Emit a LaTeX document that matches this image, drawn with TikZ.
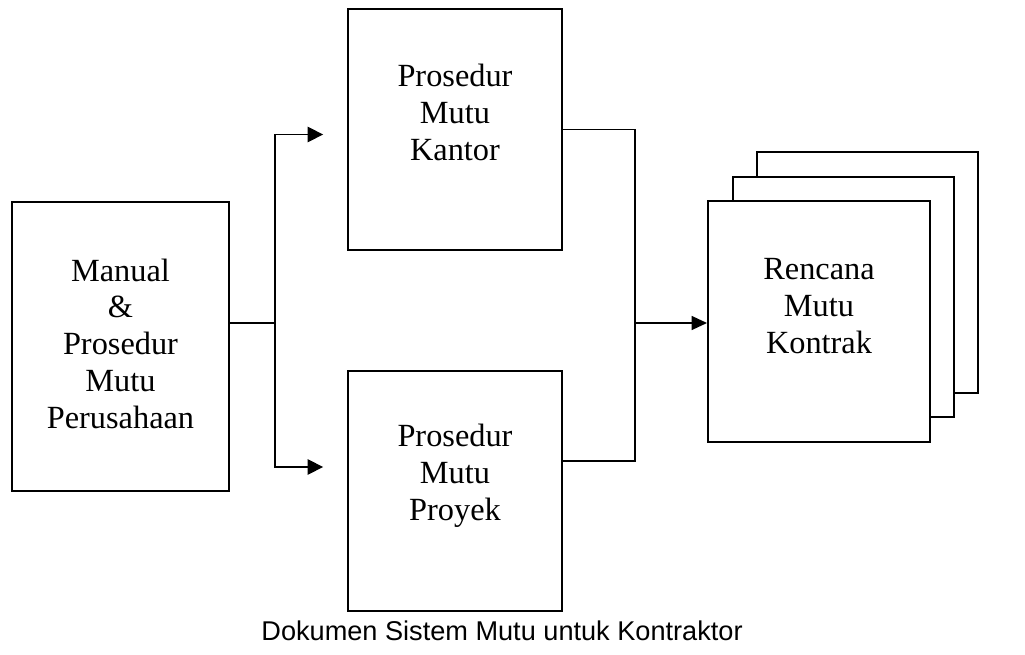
\documentclass[tikz,border=0pt]{standalone}
\usepackage{fontspec}
\setmainfont{Liberation Serif}
\newfontfamily\capfont{Liberation Sans}
\usetikzlibrary{arrows.meta,calc}

\begin{document}
\begin{tikzpicture} [x=0.025cm, y=-0.025cm,
    doc/.style={draw, line width=1.4pt, fill=white, inner sep=0pt},
    flow/.style={line width=1.1pt},
    every label/.style={align=center, font=\fontsize{23}{26.2}\selectfont}]
    \useasboundingbox (0,0) rectangle (1025,655);
    % boxes
    \path node (manual) at (120.5,346.5) [doc, minimum width=5.425cm, minimum height=7.225cm,
                label={[yshift=2pt]center:Manual\\\&\\Prosedur\\Mutu\\Perusahaan}] {}
          node (kantor) at (455,129.5) [doc, minimum width=5.35cm, minimum height=6.025cm,
                label={[yshift=12pt]center:Prosedur\\Mutu\\Kantor}] {}
          node (proyek) at (455,491) [doc, minimum width=5.35cm, minimum height=6cm,
                label={[yshift=11pt]center:Prosedur\\Mutu\\Proyek}] {};
    % stack of contract plans, back to front
    \path node (rencanathree) at (867.5,272.5) [doc, minimum width=5.5cm, minimum height=6cm] {}
          node (rencanatwo) at (843.5,297) [doc, minimum width=5.5cm, minimum height=6cm] {}
          node (rencana) at (819,321.5) [doc, minimum width=5.55cm, minimum height=6.025cm,
                label={[yshift=11pt]center:Rencana\\Mutu\\Kontrak}] {};
    % connectors
    \coordinate (split) at (275,323);
    \coordinate (merge) at (635,323);
    \draw [flow] (split -| manual.east) -- (split);
    \draw [flow, -{Triangle[length=11pt,width=11pt]}, shorten >=17pt] (split) |- ($(kantor.west)+(0,5)$);
    \draw [flow, -{Triangle[length=11pt,width=11pt]}, shorten >=17pt] (split) |- ($(proyek.west)+(0,-24)$);
    \draw [flow] (kantor.east) -| (merge);
    \draw [flow] ($(proyek.east)+(0,-30)$) -| (merge);
    \draw [flow, -{Triangle[length=11pt,width=10pt]}] (merge) -- (merge -| rencana.west);
    % caption
    \node (caption) at (502,640) [anchor=base, font=\capfont\fontsize{19.3}{23}\selectfont]
          {Dokumen Sistem Mutu untuk Kontraktor};
\end{tikzpicture}
\end{document}
